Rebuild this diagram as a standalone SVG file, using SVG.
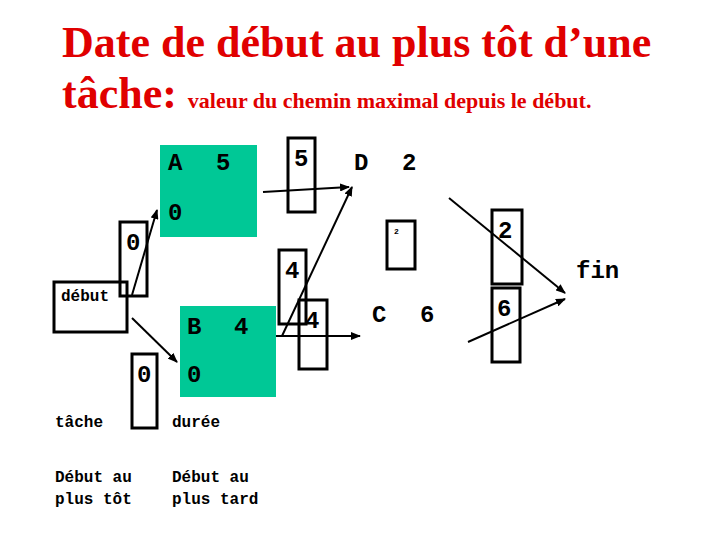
<svg xmlns="http://www.w3.org/2000/svg" width="720" height="540" viewBox="0 0 720 540">
<defs><marker id="ah" markerWidth="10" markerHeight="8" refX="9" refY="4" orient="auto" markerUnits="userSpaceOnUse"><path d="M0,0 L10,4 L0,8 z" fill="#000"/></marker></defs>
<style>
.t{font-family:"Liberation Serif",serif;font-weight:bold;fill:#e00000}
.m{font-family:"Liberation Mono",monospace;font-weight:bold;fill:#000}
.b{fill:none;stroke:#000;stroke-width:3}
.g{fill:#00c896}
.c{stroke:#000;stroke-width:2;fill:none;marker-end:url(#ah)}
</style>
<rect width="720" height="540" fill="#fff"/>
<text class="t" x="62" y="57" font-size="44">Date de début au plus tôt d’une</text>
<text class="t" x="62" y="108" font-size="44">tâche: <tspan font-size="22">valeur du chemin maximal depuis le début.</tspan></text>
<g id="A"><rect class="g" x="160" y="145" width="97" height="92"/><text class="m" x="168" y="170" font-size="24">A</text><text class="m" x="216" y="170" font-size="24">5</text><text class="m" x="168" y="220" font-size="24">0</text></g>
<g id="B"><rect class="g" x="180" y="306" width="96" height="91"/><text class="m" x="187" y="334" font-size="24">B</text><text class="m" x="234" y="334" font-size="24">4</text><text class="m" x="187" y="382" font-size="24">0</text></g>
<g id="debut"><rect class="b" x="54" y="282" width="73" height="50"/><text class="m" x="61" y="301" font-size="16">début</text></g>
<g id="D"><text class="m" x="354" y="170" font-size="24">D</text><text class="m" x="402" y="170" font-size="24">2</text></g>
<g id="C"><text class="m" x="372" y="322" font-size="24">C</text><text class="m" x="420" y="322" font-size="24">6</text></g>
<g id="fin"><text class="m" x="576" y="278" font-size="24">fin</text></g>
<g id="boxes">
<rect class="b" x="288" y="138" width="27" height="74"/><text class="m" x="294" y="166" font-size="24">5</text>
<rect class="b" x="120" y="222" width="27" height="74"/><text class="m" x="126" y="250" font-size="24">0</text>
<rect class="b" x="132" y="354" width="25" height="74"/><text class="m" x="137" y="382" font-size="24">0</text>
<rect class="b" x="279" y="250" width="27" height="74"/><text class="m" x="285" y="278" font-size="24">4</text>
<rect class="b" x="299" y="300" width="28" height="69"/><text class="m" x="305" y="328" font-size="24">4</text>
<rect class="b" x="387" y="221" width="28" height="48"/><text class="m" x="394" y="234" font-size="8">2</text>
<rect class="b" x="492" y="210" width="30" height="74"/><text class="m" x="498" y="238" font-size="24">2</text>
<rect class="b" x="492" y="288" width="28" height="74"/><text class="m" x="497" y="316" font-size="24">6</text>
</g>
<g id="connectors">
<line class="c" x1="263" y1="192" x2="349" y2="187"/>
<line class="c" x1="132" y1="295" x2="157" y2="210"/>
<line class="c" x1="132" y1="318" x2="177" y2="362"/>
<line class="c" x1="276" y1="336" x2="360" y2="336"/>
<line class="c" x1="282" y1="336" x2="352" y2="187"/>
<line class="c" x1="449" y1="198" x2="565" y2="293"/>
<line class="c" x1="468" y1="342" x2="565" y2="299"/>
</g>
<g id="legend">
<text class="m" x="55" y="427" font-size="16">tâche</text>
<text class="m" x="172" y="427" font-size="16">durée</text>
<text class="m" x="55" y="482" font-size="16">Début au</text>
<text class="m" x="55" y="504" font-size="16">plus tôt</text>
<text class="m" x="172" y="482" font-size="16">Début au</text>
<text class="m" x="172" y="504" font-size="16">plus tard</text>
</g>
</svg>
